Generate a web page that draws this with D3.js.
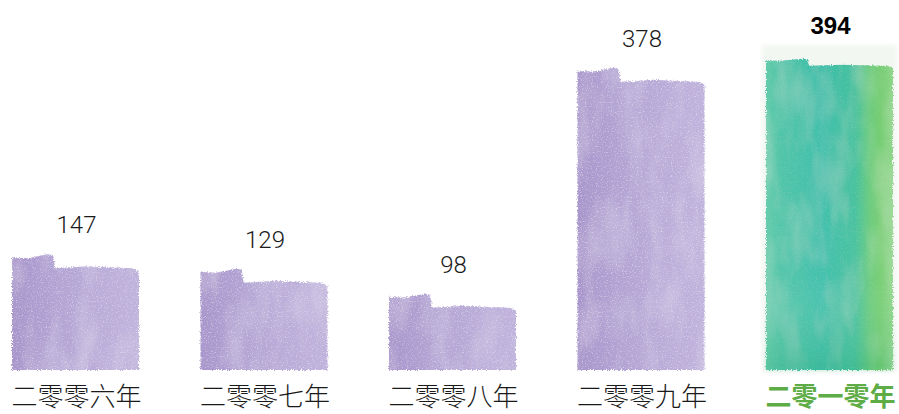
<!DOCTYPE html>
<html>
<head>
<meta charset="utf-8">
<script src="https://cdn.jsdelivr.net/npm/d3@7"></script>
<style>
  html, body { margin: 0; padding: 0; background: #fff; }
  svg { display: block; }
</style>
</head>
<body>
<svg id="chart"></svg>
<script>
const years = ["二零零六年", "二零零七年", "二零零八年", "二零零九年", "二零一零年"];
const values = [147, 129, 98, 378, 394];
const highlight = "二零一零年";

const width = 899;
const height = 414;
const floorY = 370;

const svg = d3.select("#chart").attr("width", width).attr("height", height);

const x = d3.scaleBand()
  .domain(years)
  .range([12, 893])
  .paddingInner(0.326)
  .paddingOuter(0);

const y = d3.scaleLinear()
  .domain([0, 400])
  .range([381, 58]);

const defs = svg.append("defs");

// purple wash
const purple = defs.append("linearGradient").attr("id", "purple");
[["0%", "#a996cc"], ["30%", "#b1a2d3"], ["60%", "#b9abd8"], ["100%", "#c0b3dc"]]
  .forEach(([o, c]) => purple.append("stop").attr("offset", o).attr("stop-color", c));

// green wash
const green = defs.append("linearGradient").attr("id", "green");
[["0%", "#62cbaa"], ["12%", "#4fc4a8"], ["45%", "#3dbfaa"], ["70%", "#45c19e"],
 ["82%", "#6acb7c"], ["90%", "#74cd70"], ["100%", "#8ed58a"]]
  .forEach(([o, c]) => green.append("stop").attr("offset", o).attr("stop-color", c));

const greenV = defs.append("linearGradient").attr("id", "greenV")
  .attr("x1", 0).attr("x2", 0).attr("y1", 0).attr("y2", 1);
[["0%", "#ffffff", 0], ["70%", "#ffffff", 0.04], ["100%", "#2aa86e", 0.25]]
  .forEach(([o, c, a]) => greenV.append("stop").attr("offset", o).attr("stop-color", c).attr("stop-opacity", a));

// watercolour filter: ragged edge + grain + soft blotches
function wash(id, seed, grainAlpha, blotAlpha) {
  const f = defs.append("filter").attr("id", id)
    .attr("x", "-5%").attr("y", "-5%").attr("width", "110%").attr("height", "110%");
  f.append("feTurbulence").attr("type", "fractalNoise").attr("baseFrequency", 0.8)
    .attr("numOctaves", 2).attr("seed", seed).attr("result", "grain");
  f.append("feTurbulence").attr("type", "fractalNoise").attr("baseFrequency", "0.04 0.015")
    .attr("numOctaves", 3).attr("seed", seed + 7).attr("result", "blot");
  f.append("feDisplacementMap").attr("in", "SourceGraphic").attr("in2", "grain")
    .attr("scale", 4).attr("xChannelSelector", "R").attr("yChannelSelector", "G").attr("result", "rag");
  f.append("feColorMatrix").attr("in", "blot").attr("type", "matrix")
    .attr("values", `0 0 0 0 1  0 0 0 0 1  0 0 0 0 1  ${blotAlpha} 0 0 0 ${-blotAlpha * 0.42}`).attr("result", "wb");
  f.append("feColorMatrix").attr("in", "grain").attr("type", "matrix")
    .attr("values", `0 0 0 0 1  0 0 0 0 1  0 0 0 0 1  0 ${grainAlpha} 0 0 ${-grainAlpha * 0.55}`).attr("result", "gw");
  f.append("feComposite").attr("in", "wb").attr("in2", "rag").attr("operator", "in").attr("result", "wb2");
  f.append("feComposite").attr("in", "gw").attr("in2", "rag").attr("operator", "in").attr("result", "gw2");
  const m = f.append("feMerge");
  m.append("feMergeNode").attr("in", "rag");
  m.append("feMergeNode").attr("in", "wb2");
  m.append("feMergeNode").attr("in", "gw2");
}
wash("wcPurple", 2, 1.2, 0.45);
wash("wcGreen", 5, 0.25, 0.3);

defs.append("filter").attr("id", "soft")
  .append("feGaussianBlur").attr("stdDeviation", 2);

// stepped, slightly uneven top like a torn paint strip
function barPath(d) {
  const x0 = x(d.year), w = x.bandwidth(), x1 = x0 + w;
  const t = y(d.value);
  const k = d.year === highlight ? 0.5 : 1; // the green strip has a shallower step
  const s = x0 + w * 0.34;
  const p = d3.path();
  p.moveTo(x0, t - 5 * k);
  p.lineTo(x0 + w * 0.12, t - 4 * k);
  p.lineTo(x0 + w * 0.2, t - 6 * k);
  p.lineTo(x0 + w * 0.28, t - 8 * k);
  p.lineTo(s - 2, t - 7 * k);
  p.lineTo(s, t + 6 * k);
  p.lineTo(x0 + w * 0.6, t + 4 * k);
  p.lineTo(x0 + w * 0.75, t + 5 * k);
  p.lineTo(x1 - 6, t + 6 * k);
  p.lineTo(x1, t + 9 * k);
  p.lineTo(x1, floorY);
  p.lineTo(x0, floorY);
  p.closePath();
  return p.toString();
}

const data = years.map((year, i) => ({ year, value: values[i] }));

// paper card behind the highlighted bar
const hl = data.find(d => d.year === highlight);
svg.append("rect")
  .attr("x", x(hl.year) - 4)
  .attr("y", y(hl.value) - 18)
  .attr("width", x.bandwidth() + 8)
  .attr("height", floorY - y(hl.value) + 20)
  .attr("fill", "#f3f7f2")
  .attr("filter", "url(#soft)");

svg.selectAll(".bar")
  .data(data)
  .enter()
  .append("path")
  .attr("class", "bar")
  .attr("d", barPath)
  .attr("fill", d => d.year === highlight ? "url(#green)" : "url(#purple)")
  .attr("filter", d => d.year === highlight ? "url(#wcGreen)" : "url(#wcPurple)");

svg.append("path")
  .datum(hl)
  .attr("d", barPath)
  .attr("fill", "url(#greenV)")
  .attr("filter", "url(#soft)");

// value labels
svg.selectAll(".val")
  .data(data)
  .enter()
  .append("text")
  .attr("class", "val")
  .attr("x", d => x(d.year) + x.bandwidth() / 2 + 1)
  .attr("y", d => y(d.value) - 29)
  .attr("text-anchor", "middle")
  .attr("font-family", d => d.year === highlight ? "'Liberation Sans', Arial, sans-serif" : "Roboto, 'Liberation Sans', sans-serif")
  .attr("font-size", 24)
  .attr("font-weight", d => d.year === highlight ? "bold" : 300)
  .attr("fill", d => d.year === highlight ? "#000" : "#1a1a1a")
  .text(d => d.value);

// category labels
svg.selectAll(".cat")
  .data(data)
  .enter()
  .append("text")
  .attr("class", "cat")
  .attr("x", d => x(d.year) + x.bandwidth() / 2 + 1)
  .attr("y", 406)
  .attr("text-anchor", "middle")
  .attr("font-family", "'Noto Sans CJK SC', sans-serif")
  .attr("font-size", 26)
  .attr("font-weight", d => d.year === highlight ? "bold" : 300)
  .attr("fill", d => d.year === highlight ? "#5eac46" : "#1a1a1a")
  .text(d => d.year);
</script>
</body>
</html>
